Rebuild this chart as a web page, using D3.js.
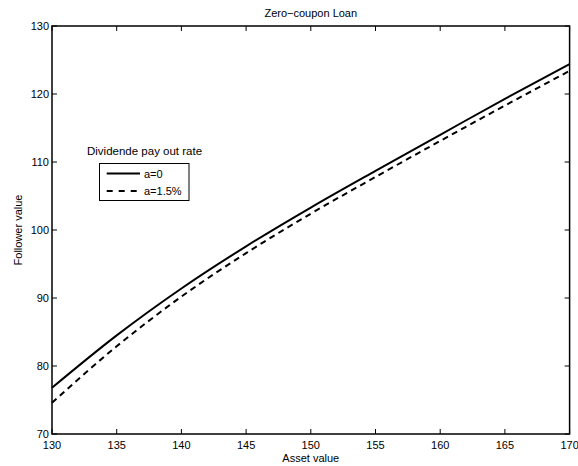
<!DOCTYPE html>
<html>
  <head>
    <meta charset="UTF-8" />
    <title>Zero-coupon Loan</title>
    <style>
      body { margin: 0; background: #fff; }
      text { font-family: "Liberation Sans", Arial, sans-serif; fill: #000; }
    </style>
    <script src="https://d3js.org/d3.v7.min.js"></script>
  </head>
  <body>
    <svg id="viz" width="578" height="466"></svg>
    <script>
      // asset values and the two follower value curves
      var assetValues = [130, 135, 140, 145, 150, 155, 160, 165, 170];
      var noDividend = [76.8, 84.5, 91.4, 97.6, 103.3, 108.7, 114.0, 119.3, 124.4];
      var dividend15 = [74.6, 82.9, 90.2, 96.6, 102.4, 107.8, 113.1, 118.3, 123.4];
      var xTicks = [130, 135, 140, 145, 150, 155, 160, 165, 170];
      var yTicks = [70, 80, 90, 100, 110, 120, 130];
      var seriesNames = ["a=0", "a=1.5%"];

      var svg = d3.select("#viz");
      // plot box (window.top is read-only, so use other names)
      var plotLeft = 52, plotRight = 569.6, plotTop = 26, plotBottom = 434;

      var x = d3.scaleLinear().domain([130, 170]).range([plotLeft, plotRight]);
      var y = d3.scaleLinear().domain([70, 130]).range([plotBottom, plotTop]);

      // ticks inside, mirrored on top and right like matlab
      var g = svg.append("g");
      xTicks.forEach(function (t) {
        g.append("line").attr("x1", x(t)).attr("x2", x(t))
          .attr("y1", plotBottom).attr("y2", plotBottom - 5).attr("stroke", "#000");
        g.append("line").attr("x1", x(t)).attr("x2", x(t))
          .attr("y1", plotTop).attr("y2", plotTop + 5).attr("stroke", "#000");
        g.append("text").attr("x", x(t)).attr("y", plotBottom + 15)
          .attr("text-anchor", "middle").style("font-size", "11px").text(t);
      });
      yTicks.forEach(function (t) {
        g.append("line").attr("x1", plotLeft).attr("x2", plotLeft + 5)
          .attr("y1", y(t)).attr("y2", y(t)).attr("stroke", "#000");
        g.append("line").attr("x1", plotRight).attr("x2", plotRight - 5)
          .attr("y1", y(t)).attr("y2", y(t)).attr("stroke", "#000");
        g.append("text").attr("x", plotLeft - 3).attr("y", y(t) + 4)
          .attr("text-anchor", "end").style("font-size", "11px").text(t);
      });

      g.append("rect").attr("x", plotLeft).attr("y", plotTop)
        .attr("width", plotRight - plotLeft).attr("height", plotBottom - plotTop)
        .attr("fill", "none").attr("stroke", "#000").attr("stroke-width", 1.5);

      var line = d3.line()
        .x(function (d) { return x(d[0]); })
        .y(function (d) { return y(d[1]); })
        .curve(d3.curveMonotoneX);

      svg.append("path")
        .datum(assetValues.map(function (a, i) { return [a, noDividend[i]]; }))
        .attr("d", line).attr("fill", "none")
        .attr("stroke", "#000").attr("stroke-width", 2);
      svg.append("path")
        .datum(assetValues.map(function (a, i) { return [a, dividend15[i]]; }))
        .attr("d", line).attr("fill", "none")
        .attr("stroke", "#000").attr("stroke-width", 2)
        .attr("stroke-dasharray", "6,4.5");

      // labels
      svg.append("text").attr("x", (plotLeft + plotRight) / 2).attr("y", 17)
        .attr("text-anchor", "middle").style("font-size", "11px")
        .text("Zero\u2212coupon Loan");
      svg.append("text").attr("x", (plotLeft + plotRight) / 2).attr("y", 462)
        .attr("text-anchor", "middle").style("font-size", "11px")
        .text("Asset value");
      svg.append("text")
        .attr("transform", "translate(22," + (plotTop + plotBottom) / 2 + ") rotate(-90)")
        .attr("text-anchor", "middle").style("font-size", "11px")
        .text("Follower value");

      // legend
      svg.append("text").attr("x", 87).attr("y", 155)
        .style("font-size", "11.5px").text("Dividende pay out rate");
      svg.append("rect").attr("x", 99.5).attr("y", 163.5)
        .attr("width", 89.5).attr("height", 37)
        .attr("fill", "#fff").attr("stroke", "#000").attr("stroke-width", 1);
      seriesNames.forEach(function (name, i) {
        var ly = 173.5 + i * 17.5;
        svg.append("line").attr("x1", 106.7).attr("x2", 140)
          .attr("y1", ly).attr("y2", ly)
          .attr("stroke", "#000").attr("stroke-width", 2)
          .attr("stroke-dasharray", i === 1 ? "6,6" : null);
        svg.append("text").attr("x", 144).attr("y", ly + 4)
          .style("font-size", "11px").text(name);
      });
    </script>
  </body>
</html>
